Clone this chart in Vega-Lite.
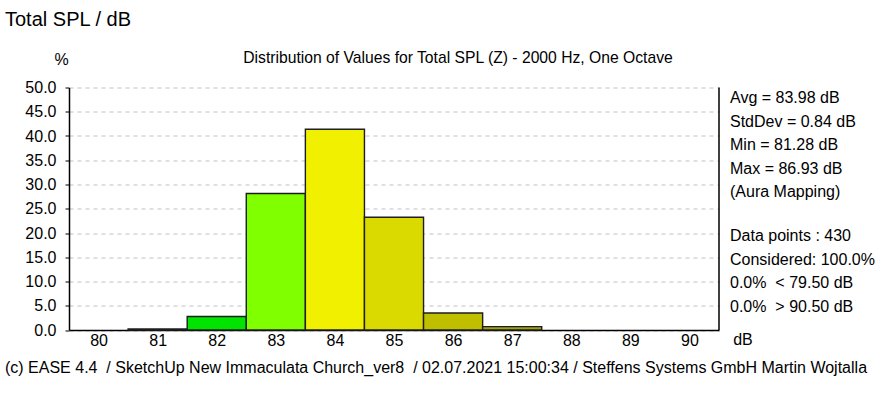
{
  "$schema": "https://vega.github.io/schema/vega-lite/v6.json",
  "autosize": {"type": "none"},
  "width": 650,
  "height": 242.5,
  "padding": {"left": 69, "top": 87.5, "right": 161, "bottom": 68},
  "background": "#ffffff",
  "config": {
    "view": {"stroke": null},
    "font": "Liberation Sans",
    "text": {"font": "Liberation Sans", "color": "#000000"}
  },
  "datasets": {
    "bins": [
      {"dB": 81, "bin_start": 80.5, "bin_end": 81.5, "percent": 0.23},
      {"dB": 82, "bin_start": 81.5, "bin_end": 82.5, "percent": 2.79},
      {"dB": 83, "bin_start": 82.5, "bin_end": 83.5, "percent": 28.14},
      {"dB": 84, "bin_start": 83.5, "bin_end": 84.5, "percent": 41.40},
      {"dB": 85, "bin_start": 84.5, "bin_end": 85.5, "percent": 23.26},
      {"dB": 86, "bin_start": 85.5, "bin_end": 86.5, "percent": 3.49},
      {"dB": 87, "bin_start": 86.5, "bin_end": 87.5, "percent": 0.70}
    ],
    "note": [{"id": 1}]
  },
  "title": {
    "text": "Total SPL / dB",
    "anchor": "start",
    "frame": "group",
    "orient": "top",
    "dx": -64,
    "offset": 19.5,
    "font": "Liberation Sans",
    "fontSize": 20,
    "fontWeight": "normal",
    "color": "#000000"
  },
  "resolve": {"axis": {"x": "independent", "y": "independent"}},
  "layer": [
    {
      "data": {"name": "bins"},
      "mark": {"type": "bar", "stroke": "#1e1e1e", "strokeWidth": 1.4},
      "encoding": {
        "x": {
          "field": "bin_start",
          "type": "quantitative",
          "scale": {"domain": [79.5, 90.5], "nice": false, "zero": false},
          "axis": {
            "values": [80, 81, 82, 83, 84, 85, 86, 87, 88, 89, 90],
            "format": "d",
            "ticks": false,
            "tickSize": 0,
            "grid": false,
            "domainColor": "#000000",
            "domainWidth": 1.5,
            "labelFont": "Liberation Sans",
            "labelFontSize": 16,
            "labelColor": "#000000",
            "labelPadding": 2,
            "labelFlush": false,
            "labelOverlap": false,
            "title": "dB",
            "titleFont": "Liberation Sans",
            "titleFontSize": 16,
            "titleFontWeight": "normal",
            "titleColor": "#000000",
            "titleAlign": "center",
            "titleBaseline": "middle",
            "titleAnchor": null,
            "titleX": 673.5,
            "titleY": 9
          }
        },
        "x2": {"field": "bin_end"},
        "y": {
          "field": "percent",
          "type": "quantitative",
          "scale": {"domain": [0, 50], "nice": false},
          "axis": {
            "values": [0, 5, 10, 15, 20, 25, 30, 35, 40, 45, 50],
            "format": ".1f",
            "tickSize": 4,
            "tickColor": "#000000",
            "domainColor": "#000000",
            "domainWidth": 1.5,
            "labelFont": "Liberation Sans",
            "labelFontSize": 16,
            "labelColor": "#000000",
            "labelPadding": 9,
            "labelFlush": false,
            "labelOverlap": false,
            "grid": true,
            "gridColor": "#c0c0c0",
            "gridDash": [4, 4],
            "gridWidth": 1,
            "title": "%",
            "titleAngle": 0,
            "titleFont": "Liberation Sans",
            "titleFontSize": 16,
            "titleFontWeight": "normal",
            "titleColor": "#000000",
            "titleAlign": "center",
            "titleBaseline": "middle",
            "titleX": -8,
            "titleY": -28
          }
        },
        "y2": {"datum": 0},
        "color": {
          "field": "dB",
          "type": "nominal",
          "scale": {
            "domain": [81, 82, 83, 84, 85, 86, 87],
            "range": ["#008000", "#00e400", "#80ff00", "#f0f000", "#dada00", "#bfbf00", "#a0a010"]
          },
          "legend": null
        }
      }
    },
    {
      "data": {"name": "note"},
      "mark": {"type": "rule", "color": "#000000", "strokeWidth": 1.5},
      "encoding": {
        "x": {"datum": 90.5, "axis": null},
        "y": {"datum": 0, "axis": null},
        "y2": {"datum": 50}
      }
    },
    {
      "data": {"name": "note"},
      "mark": {
        "type": "text",
        "align": "center",
        "baseline": "middle",
        "fontSize": 15.7,
        "dx": 64,
        "dy": -30,
        "text": "Distribution of Values for Total SPL (Z) - 2000 Hz, One Octave"
      },
      "encoding": {"x": {"datum": 85, "axis": null}, "y": {"datum": 50, "axis": null}}
    },
    {
      "data": {"name": "note"},
      "mark": {
        "type": "text",
        "align": "left",
        "baseline": "top",
        "fontSize": 16,
        "lineHeight": 23.5,
        "dx": 11,
        "dy": 2.5,
        "text": ["Avg = 83.98 dB", "StdDev = 0.84 dB", "Min = 81.28 dB", "Max = 86.93 dB", "(Aura Mapping)"]
      },
      "encoding": {"x": {"datum": 90.5, "axis": null}, "y": {"datum": 50, "axis": null}}
    },
    {
      "data": {"name": "note"},
      "mark": {
        "type": "text",
        "align": "left",
        "baseline": "top",
        "fontSize": 16,
        "lineHeight": 23.7,
        "dx": 11,
        "dy": 140.5,
        "text": ["Data points : 430", "Considered: 100.0%", "0.0%\u00a0 < 79.50 dB", "0.0%\u00a0 > 90.50 dB"]
      },
      "encoding": {"x": {"datum": 90.5, "axis": null}, "y": {"datum": 50, "axis": null}}
    },
    {
      "data": {"name": "note"},
      "mark": {
        "type": "text",
        "align": "left",
        "baseline": "middle",
        "fontSize": 16,
        "dx": -64,
        "dy": 38,
        "text": "(c) EASE 4.4\u00a0 / SketchUp New Immaculata Church_ver8\u00a0 / 02.07.2021 15:00:34 / Steffens Systems GmbH Martin Wojtalla"
      },
      "encoding": {"x": {"datum": 79.5, "axis": null}, "y": {"datum": 0, "axis": null}}
    }
  ]
}
